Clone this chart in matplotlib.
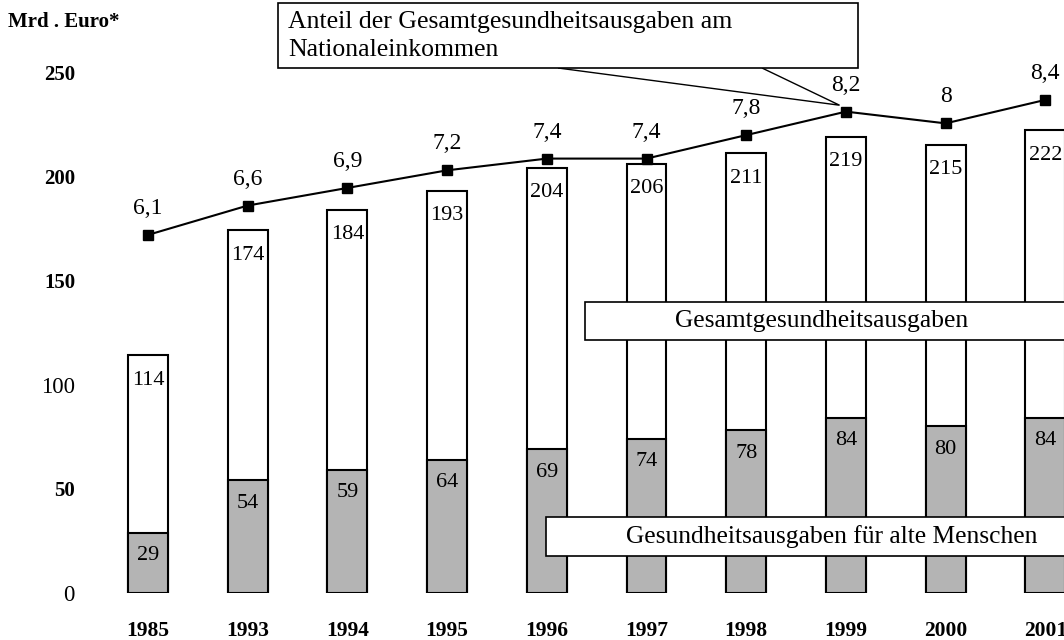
import matplotlib.pyplot as plt
import matplotlib.patches as mpatches
import numpy as np

plt.rcParams['font.family'] = ['Liberation Serif', 'DejaVu Serif']

years = ['1985', '1993', '1994', '1995', '1996', '1997', '1998', '1999', '2000', '2001']
total = [114, 174, 184, 193, 204, 206, 211, 219, 215, 222]
elderly = [29, 54, 59, 64, 69, 74, 78, 84, 80, 84]
share = [6.1, 6.6, 6.9, 7.2, 7.4, 7.4, 7.8, 8.2, 8.0, 8.4]
yticks = [0, 50, 100, 150, 200, 250]
ytick_bold = [False, True, False, True, True, True]

W, H = 1064, 640


def fx(px):
    return px / W


def fy(py):
    # pixel from top -> figure fraction from bottom
    return 1 - py / H


fig = plt.figure(figsize=(10.64, 6.4), dpi=100)
ax = fig.add_axes([fx(100), fy(593), fx(964), 521 / H])
ax2 = ax.twinx()
ax2.set_position(ax.get_position())

x = np.arange(len(years))
bw = 0.40
grey = '#b4b4b4'

ax.bar(x, total, width=bw, color='white', edgecolor='black', linewidth=1.5, zorder=2)
ax.bar(x, elderly, width=bw, color=grey, edgecolor='black', linewidth=1.5, zorder=3)

for i in range(len(x)):
    ax.text(x[i], total[i] - 12, str(total[i]), ha='center', va='center',
            fontsize=16, zorder=4)
    ax.text(x[i], elderly[i] - 11, str(elderly[i]), ha='center', va='center',
            fontsize=16, zorder=4)

ax.set_xlim(-0.481, 9.187)
ax.set_ylim(0, 250)
ax2.set_ylim(0, 8.875)

ax2.plot(x, share, color='black', linewidth=1.5, marker='s', markersize=7,
         zorder=5, clip_on=False)
for i in range(len(x)):
    lbl = ('%.1f' % share[i]).replace('.', ',')
    if lbl.endswith(',0'):
        lbl = lbl[:-2]
    ax2.annotate(lbl, (x[i], share[i]), xytext=(0, 19), textcoords='offset points',
                 ha='center', va='center', fontsize=17)

for a in (ax, ax2):
    for s in a.spines.values():
        s.set_visible(False)
ax2.set_yticks([])
ax.set_yticks(yticks)
ax.set_yticklabels([str(v) for v in yticks], fontsize=16.5)
for t, b in zip(ax.get_yticklabels(), ytick_bold):
    if b:
        t.set_fontweight('bold')
        t.set_fontsize(15)
ax.tick_params(axis='y', length=0, pad=18)
ax.set_xticks(x)
ax.set_xticklabels(years, fontsize=15.5, fontweight='bold')
ax.tick_params(axis='x', length=0, pad=20)

fig.text(fx(8), fy(22), 'Mrd . Euro*', fontsize=15, fontweight='bold', va='center')

# legend boxes
box1 = mpatches.Rectangle((fx(585), fy(340)), fx(500), 38 / H, transform=fig.transFigure,
                          facecolor='white', edgecolor='black', linewidth=1.2, zorder=10)
box2 = mpatches.Rectangle((fx(546), fy(556)), fx(540), 39 / H, transform=fig.transFigure,
                          facecolor='white', edgecolor='black', linewidth=1.2, zorder=10)
fig.patches.extend([box1, box2])
fig.text(fx(822), fy(321), 'Gesamtgesundheitsausgaben', ha='center', va='center',
         fontsize=18.4, zorder=11)
fig.text(fx(832), fy(537), 'Gesundheitsausgaben für alte Menschen', ha='center',
         va='center', fontsize=18.4, zorder=11)

# callout for the line
fig.canvas.draw()
tip = ax2.transData.transform((x[7], share[7]))
tip = fig.transFigure.inverted().transform(tip)
wedge = mpatches.Polygon([(fx(558), fy(68)), (tip[0] - 0.006, tip[1] + 0.01), (fx(762), fy(68))],
                         closed=False, transform=fig.transFigure, facecolor='white',
                         edgecolor='black', linewidth=1.0, zorder=10)
box3 = mpatches.Rectangle((fx(278), fy(68)), fx(580), 65 / H, transform=fig.transFigure,
                          facecolor='white', edgecolor='black', linewidth=1.2, zorder=10)
fig.patches.extend([wedge, box3])
fig.text(fx(288), fy(22), 'Anteil der Gesamtgesundheitsausgaben am', va='center',
         fontsize=18.5, zorder=11)
fig.text(fx(288), fy(50), 'Nationaleinkommen', va='center', fontsize=18.5, zorder=11)

fig.savefig('out.png', dpi=100)
